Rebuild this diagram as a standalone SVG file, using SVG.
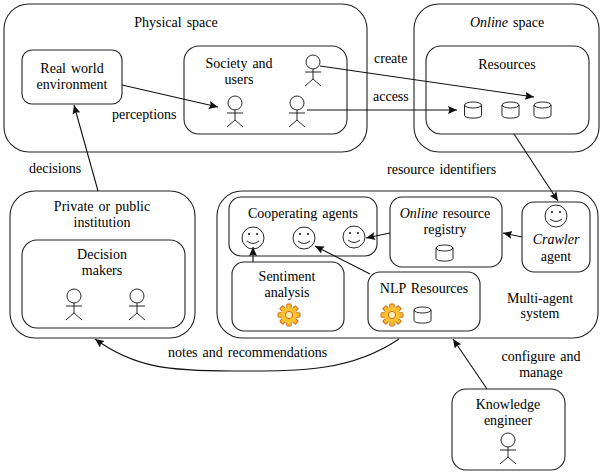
<svg xmlns="http://www.w3.org/2000/svg" width="603" height="475" viewBox="0 0 603 475">
<style>
.b{fill:none;stroke:#222;stroke-width:1.1}
.s{fill:none;stroke:#111;stroke-width:.9}
.c{fill:none;stroke:#111;stroke-width:1.1}
.t{fill:#f9c22e;stroke:#d2691e;stroke-width:1}
text{font-family:"Liberation Serif","Times New Roman",serif;font-size:14px;fill:#000;word-spacing:1.5px}
.m{text-anchor:middle}
</style>
<defs>
<marker id="a" markerUnits="userSpaceOnUse" markerWidth="10" markerHeight="9" refX="9" refY="4" orient="auto"><path d="M0,0L9,4L0,8L1.500,4Z" fill="#111"/></marker>
<g id="actor" class="s"><circle cx="0" cy="0" r="7"/><path d="M0,7V17M-8,10H8M-8,24L0,17L8,24"/></g>
<g id="cyl" class="s"><path d="M-8.500,-5V5.500C-8.500,9 8.500,9 8.500,5.500V-5"/><ellipse cx="0" cy="-5" rx="8.500" ry="3"/></g>
<g id="smile" class="s"><circle r="11"/><circle cx="-4" cy="-4" r="1" fill="#111" stroke="none"/><circle cx="4" cy="-4" r="1" fill="#111" stroke="none"/><path d="M-6,3Q0,8 6,3"/></g>
<g id="gear"><rect class="t" x="-2.200" y="-11" width="4.400" height="22" rx=".6"/><rect class="t" x="-2.200" y="-11" width="4.400" height="22" rx=".6" transform="rotate(45)"/><rect class="t" x="-2.200" y="-11" width="4.400" height="22" rx=".6" transform="rotate(90)"/><rect class="t" x="-2.200" y="-11" width="4.400" height="22" rx=".6" transform="rotate(135)"/><circle r="7.800" fill="#f9c22e"/><circle r="3.600" fill="#fff0b8" stroke="#d2691e"/></g>
</defs>
<rect width="603" height="475" fill="#fff"/>
<g id="physical-space"><rect class="b" x="4" y="4" width="363" height="148" rx="25"/><text class="m" x="176" y="27">Physical space</text></g>
<g id="online-space"><rect class="b" x="414" y="4" width="185" height="148" rx="25"/><text class="m" x="507" y="27"><tspan font-style="italic">Online</tspan> space</text></g>
<g id="real-world"><rect class="b" x="22" y="50" width="100" height="54" rx="10"/><text class="m" x="72" y="73">Real world</text><text class="m" x="72" y="89">environment</text></g>
<g id="society"><rect class="b" x="184" y="46" width="163" height="88" rx="15"/><text class="m" x="239" y="68">Society and</text><text class="m" x="239" y="84">users</text><use href="#actor" x="235" y="103"/><use href="#actor" x="297" y="103"/><use href="#actor" x="313" y="62"/></g>
<g id="resources"><rect class="b" x="426" y="46" width="163" height="88" rx="15"/><text class="m" x="507" y="69">Resources</text><use href="#cyl" x="473" y="110"/><use href="#cyl" x="510.500" y="110"/><use href="#cyl" x="542.500" y="110"/></g>
<g id="institution"><rect class="b" x="10" y="191" width="185" height="147" rx="25"/><text class="m" x="102" y="211">Private or public</text><text class="m" x="102" y="227">institution</text></g>
<g id="decision-makers"><rect class="b" x="22" y="240" width="163" height="88" rx="15"/><text class="m" x="102" y="259">Decision</text><text class="m" x="102" y="275">makers</text><use href="#actor" x="74" y="296"/><use href="#actor" x="137" y="296"/></g>
<g id="multi-agent"><rect class="b" x="217" y="191" width="381" height="147" rx="25"/><text class="m" x="540" y="303">Multi-agent</text><text class="m" x="540" y="318">system</text></g>
<g id="cooperating"><rect class="b" x="229" y="197" width="148" height="59" rx="12"/><text class="m" x="303" y="218">Cooperating agents</text><use href="#smile" x="253" y="238"/><use href="#smile" x="304" y="238"/><use href="#smile" x="354" y="237"/></g>
<g id="registry"><rect class="b" x="390" y="197" width="112" height="70" rx="12"/><text class="m" x="445" y="218"><tspan font-style="italic">Online</tspan> resource</text><text class="m" x="445" y="234">registry</text><use href="#cyl" x="444.500" y="253"/></g>
<g id="crawler"><rect class="b" x="522" y="202" width="68" height="70" rx="12"/><use href="#smile" x="556" y="216"/><text class="m" x="556" y="244" font-style="italic">Crawler</text><text class="m" x="556" y="261">agent</text></g>
<g id="sentiment"><rect class="b" x="232" y="262" width="112" height="69" rx="12"/><text class="m" x="287" y="281">Sentiment</text><text class="m" x="287" y="297">analysis</text><use href="#gear" x="289" y="315"/></g>
<g id="nlp"><rect class="b" x="368" y="272" width="112" height="59" rx="12"/><text class="m" x="424" y="293">NLP Resources</text><use href="#gear" x="392" y="315"/><use href="#cyl" x="422.500" y="315"/></g>
<g id="knowledge"><rect class="b" x="452" y="389" width="113" height="81" rx="14"/><text class="m" x="508" y="409">Knowledge</text><text class="m" x="508" y="425">engineer</text><use href="#actor" x="508" y="440"/></g>
<g id="connectors">
<path class="c" marker-end="url(#a)" d="M122,85L218,107"/>
<path class="c" marker-end="url(#a)" d="M98,191L74,105"/>
<path class="c" marker-end="url(#a)" d="M320,66L534,97"/>
<path class="c" marker-end="url(#a)" d="M307,110H457"/>
<path class="c" marker-end="url(#a)" d="M514,134L558,201"/>
<path class="c" marker-end="url(#a)" d="M522,237L503,233"/>
<path class="c" marker-end="url(#a)" d="M390,233L366,238"/>
<path class="c" marker-end="url(#a)" d="M370,274L315,246"/>
<path class="c" marker-end="url(#a)" d="M253,262V247"/>
<path class="c" marker-end="url(#a)" d="M399,339C350,372 300,371 233,371C170,371 135,368 95,339"/>
<path class="c" marker-end="url(#a)" d="M487,389L453,339"/>
</g>
<g id="labels">
<text x="112" y="119">perceptions</text>
<text x="29" y="173">decisions</text>
<text x="374" y="63">create</text>
<text x="373" y="101">access</text>
<text x="387" y="174">resource identifiers</text>
<text x="168" y="357">notes and recommendations</text>
<text class="m" x="541" y="361">configure and</text>
<text class="m" x="541" y="377">manage</text>
</g>
</svg>
